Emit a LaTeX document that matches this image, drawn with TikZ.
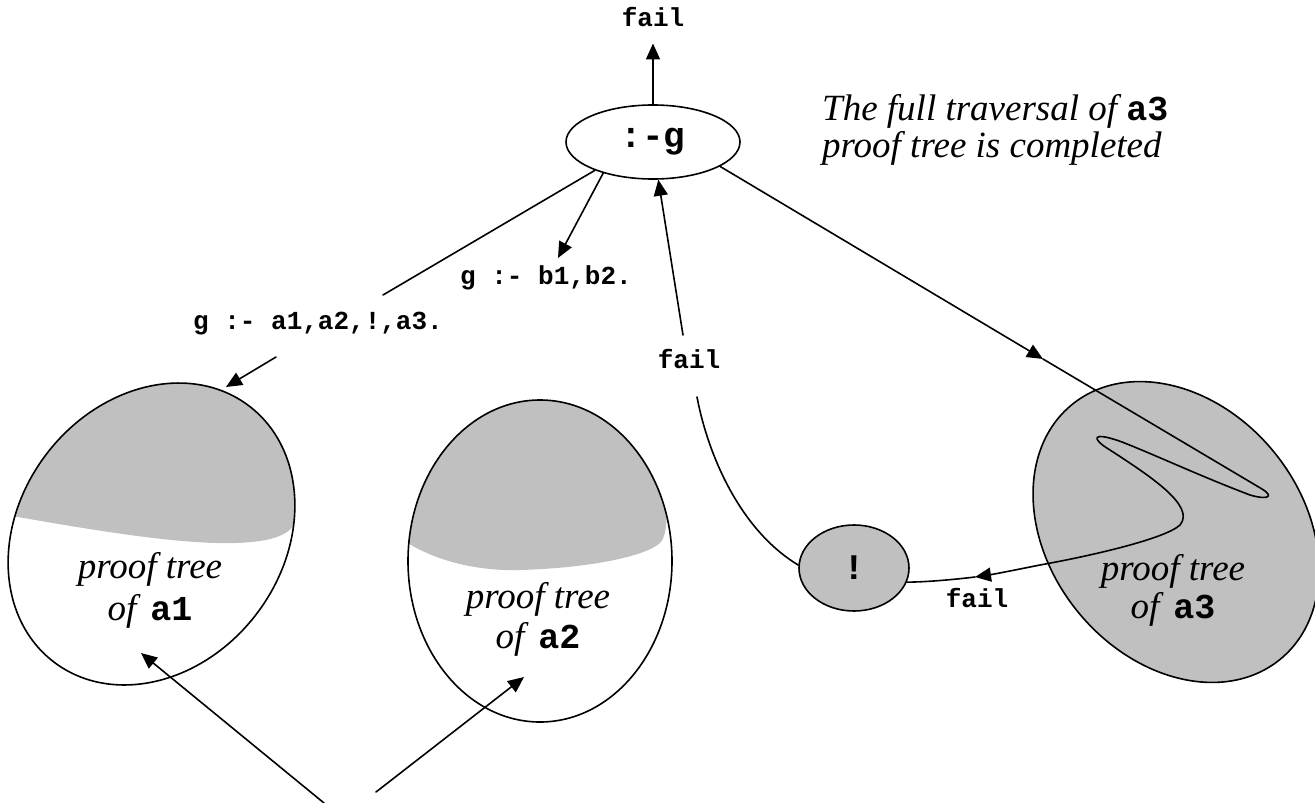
\documentclass[tikz,border=0pt]{standalone}
\usepackage{fontspec}
\setmainfont{Liberation Serif}
\setmonofont{Liberation Mono}
\usetikzlibrary{shapes.geometric,arrows.meta}
\definecolor{silvergray}{HTML}{C0C0C0}
\tikzset{
  wire/.style={line width=1.6pt, line join=round, line cap=round},
  arr/.style={wire, -{Triangle[length=16pt,width=14pt]}},
  monolbl/.style={font=\fontsize{26}{30}\selectfont\ttfamily\bfseries, inner sep=0pt},
  itxt/.style={font=\fontsize{37}{42}\selectfont\itshape, inner sep=0pt},
  goal/.style={draw, ellipse, wire, inner sep=0pt,
    font=\fontsize{36}{40}\selectfont\ttfamily\bfseries},
  tree/.style={draw, ellipse, wire, inner sep=0pt},
}
\newcommand{\codeword}[1]{{\fontsize{35}{40}\selectfont\ttfamily\upshape\bfseries #1}}

\begin{document}
\begin{tikzpicture}[x=1pt,y=-1pt]
\useasboundingbox (0,0) rectangle (1315,803);

% ---- proof tree of a1: explored part shaded ----
\coordinate (a1c) at (151.5,534);
\begin{scope}
  \clip[rotate around={-37.4:(a1c)}] (a1c) ellipse [x radius=132, y radius=161];
  \fill[silvergray] (0,514) .. controls (60,524) and (170,545) .. (235,543)
     .. controls (272,542) and (292,535) .. (298,518)
     -- (330,518) -- (330,360) -- (0,360) -- cycle;
\end{scope}
\node[tree, minimum width=264, minimum height=322, rotate=-37.4] (a1) at (a1c) {};

% ---- proof tree of a2 ----
\coordinate (a2c) at (540,561);
\begin{scope}
  \clip (a2c) ellipse [x radius=132, y radius=161];
  \fill[silvergray] (400,538) .. controls (440,566) and (490,571) .. (520,570)
     .. controls (590,568) and (648,556) .. (661,542)
     .. controls (666,535) and (667,522) .. (667,500)
     -- (690,500) -- (690,380) -- (400,380) -- cycle;
\end{scope}
\node[tree, minimum width=264, minimum height=322] (a2) at (a2c) {};

% ---- proof tree of a3: fully traversed ----
\node[tree, fill=silvergray, minimum width=253, minimum height=329, rotate=39.3] (a3) at (1176,532) {};

% ---- goal and cut ----
\node[goal, minimum width=174, minimum height=74] (g) at (653,142) {:-g};
\node[goal, fill=silvergray, minimum width=110, minimum height=86] (bang) at (854,568) {!};

% ---- texts ----
\node[itxt, anchor=base] (a1t1) at (150,578) {proof tree};
\node[itxt, anchor=base] (a1t2) at (150,620) {of\hspace{14pt}\codeword{a1}};
\node[itxt, anchor=base] (a2t1) at (538,608) {proof tree};
\node[itxt, anchor=base] (a2t2) at (538,648) {of\hspace{14pt}\codeword{a2}};
\node[itxt, anchor=base] (a3t1) at (1173,580) {proof tree};
\node[itxt, anchor=base] (a3t2) at (1173,618) {of\hspace{14pt}\codeword{a3}};
\node[itxt, anchor=base west] (h1) at (822,120) {The full traversal of \codeword{a3}};
\node[itxt, anchor=base west] (h2) at (822,157) {proof tree is completed};

\node[monolbl, anchor=base] (ftop) at (653,27) {fail};
\node[monolbl, anchor=base] (fmid) at (689,368) {fail};
\node[monolbl, anchor=base] (fbot) at (977,607) {fail};
\node[monolbl, anchor=base] (cb) at (546,284) {g :- b1,b2.};
\node[monolbl, anchor=base] (ca) at (318,329) {g :- a1,a2,!,a3.};

% ---- free ends of connectors ----
\coordinate (cbtip) at (558,258);
\coordinate (gap1) at (383,295);
\coordinate (gap2) at (276,357);
\coordinate (a1in) at (226,387);
\coordinate (a3mid) at (1043,359);
\coordinate (back) at (975,577);
\coordinate (fb) at (697,397);
\coordinate (ft) at (683,335);
\coordinate (s1) at (324,803);
\coordinate (s2) at (376,792);
\coordinate (t1) at (141,653);
\coordinate (t2) at (524,677);

% ---- connectors ----
\draw[arr, shorten >=16pt] (g.north) -- (ftop.south);
\draw[arr] (g.212) -- (cbtip);
\draw[wire] (g.206) -- (gap1);
\draw[arr] (gap2) -- (a1in);

% into a3, zig-zag through it, and back out to the cut
\draw[arr] (g.-20) -- (a3mid);
\draw[arr] (a3mid) -- (1262,489)
   .. controls (1275,497) and (1267,500) .. (1250,495)
   .. controls (1200,476) and (1160,457) .. (1122,442)
   .. controls (1092,431) and (1090,438) .. (1110,450)
   .. controls (1150,476) and (1196,506) .. (1180,525)
   .. controls (1165,539) and (1090,556) .. (1040,565)
   .. controls (1015,570) and (995,574) .. (back);
\draw[wire] (back) .. controls (950,580) and (925,582) .. (bang.-15);

% the cut sends failure straight back to the goal
\draw[wire] (bang.177) .. controls (740,530) and (708,455) .. (fb);
\draw[arr] (ft) -- (g.-82);

% arrows from below
\draw[arr] (s1) -- (t1);
\draw[arr] (s2) -- (t2);
\end{tikzpicture}
\end{document}
